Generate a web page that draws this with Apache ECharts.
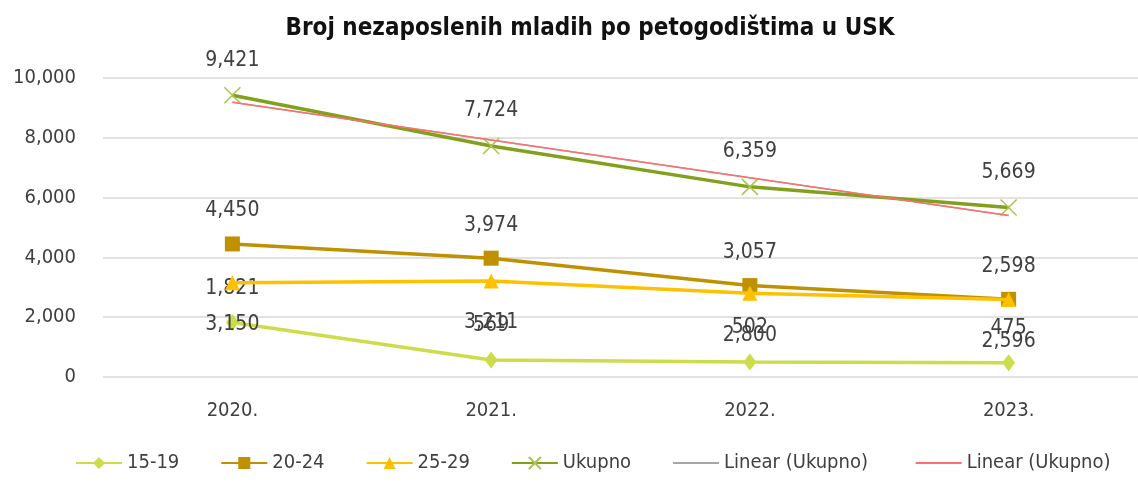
<!DOCTYPE html>
<html>
<head>
<meta charset="utf-8">
<script src="https://cdn.jsdelivr.net/npm/echarts@6/dist/echarts.min.js"></script>
<style>
  html, body { margin: 0; padding: 0; background: #fff; }
  #chart { width: 1138px; height: 482px; }
</style>
</head>
<body>
<div id="chart"></div>
<script>
const years = ['2020.', '2021.', '2022.', '2023.']
const age1519 = [1821, 569, 502, 475]
const age2024 = [4450, 3974, 3057, 2598]
const age2529 = [3150, 3211, 2800, 2596]
const ukupno = [9421, 7724, 6359, 5669]
// trend line values
const linearUkupno = [9186, 7924, 6662, 5400]

const font = '"Liberation Sans Narrow", "DejaVu Sans Condensed", "Roboto", sans-serif'
const txt = '#404040'

const chart = echarts.init(document.getElementById('chart'))

const labelOf = (pos, dist) => ({
  show: true,
  position: pos,
  distance: dist,
  color: txt,
  fontFamily: font,
  fontSize: 21,
  formatter: (p) => p.value.toLocaleString('en-US')
})

const noDot = { color: 'rgba(0,0,0,0)', borderWidth: 0 }

const option = {
  animation: false,
  textStyle: { fontFamily: font },
  title: {
    text: 'Broj nezaposlenih mladih po petogodištima u USK',
    left: 585,
    textAlign: 'center',
    top: 12,
    textStyle: { fontFamily: font, fontSize: 24, fontWeight: 'bold', color: '#111' }
  },
  legend: {
    bottom: 4,
    left: 70,
    itemWidth: 46,
    itemHeight: 15,
    itemGap: 41,
    textStyle: { fontFamily: font, fontSize: 20, color: txt },
    data: [
      '15-19', '20-24', '25-29', 'Ukupno',
      { name: 'Linear (Ukupno) ', itemStyle: noDot },
      { name: 'Linear (Ukupno)', itemStyle: noDot }
    ]
  },
  grid: { left: 103, right: -6, top: 78, bottom: 105 },
  xAxis: {
    type: 'category',
    data: years,
    axisLine: { show: false },
    axisTick: { show: false },
    axisLabel: { color: txt, fontFamily: font, fontSize: 20, margin: 24 }
  },
  yAxis: {
    type: 'value',
    min: 0,
    max: 10000,
    interval: 2000,
    axisLabel: {
      color: txt, fontFamily: font, fontSize: 20, margin: 27,
      formatter: (v) => v.toLocaleString('en-US')
    },
    splitLine: { lineStyle: { color: '#d9d9d9', width: 1.5 } }
  },
  series: [
    {
      name: 'Linear (Ukupno) ',
      type: 'line',
      data: linearUkupno,
      symbol: 'none',
      lineStyle: { color: '#a6a6a6', width: 1.5 },
      itemStyle: { color: '#a6a6a6' },
      z: 1
    },
    {
      name: 'Linear (Ukupno)',
      type: 'line',
      data: linearUkupno,
      symbol: 'none',
      lineStyle: { color: '#ff6f6f', width: 1.5 },
      itemStyle: { color: '#ff8a8a' },
      z: 5
    },
    {
      name: '15-19',
      type: 'line',
      data: age1519,
      symbol: 'diamond',
      symbolSize: [13, 17],
      lineStyle: { color: '#cddc4b', width: 3.5 },
      itemStyle: { color: '#cddc4b' },
      label: labelOf('top', 15),
      z: 3
    },
    {
      name: '20-24',
      type: 'line',
      data: age2024,
      symbol: 'rect',
      symbolSize: 15,
      lineStyle: { color: '#bf9000', width: 3.5 },
      itemStyle: { color: '#bf9000' },
      label: labelOf('top', 15),
      z: 3
    },
    {
      name: '25-29',
      type: 'line',
      data: age2529,
      symbol: 'triangle',
      symbolSize: 15,
      lineStyle: { color: '#ffc000', width: 3.5 },
      itemStyle: { color: '#ffc000' },
      label: labelOf('bottom', 24),
      z: 4
    },
    {
      name: 'Ukupno',
      type: 'line',
      data: ukupno,
      symbol: 'path://M0,0L10,10M10,0L0,10',
      symbolSize: 16,
      lineStyle: { color: '#82a01c', width: 3.5 },
      itemStyle: { color: 'rgba(0,0,0,0)', borderColor: '#a9c450', borderWidth: 1.5 },
      label: labelOf('top', 16),
      z: 4
    }
  ]
}

chart.setOption(option)
</script>
</body>
</html>
